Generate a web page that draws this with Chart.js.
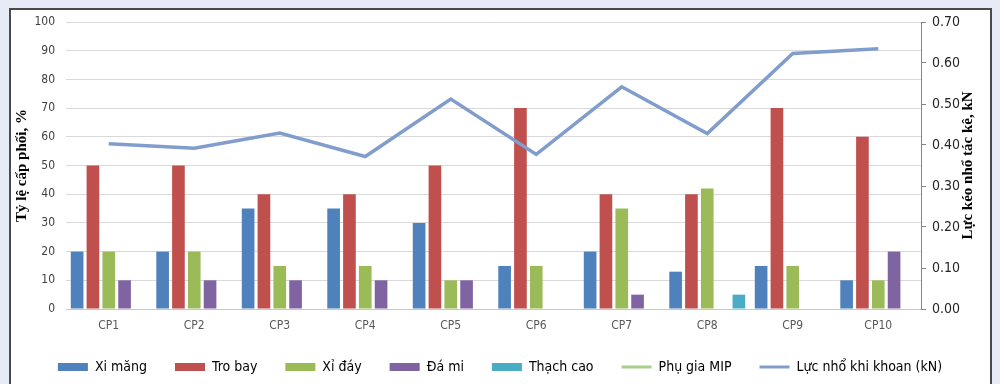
<!DOCTYPE html>
<html>
<head>
<meta charset="utf-8">
<script src="https://cdn.jsdelivr.net/npm/chart.js@4.4.1/dist/chart.umd.min.js"></script>
<style>
    html, body { margin: 0; padding: 0; background: #e7ebf5; }
    #wrap { position: relative; width: 1000px; height: 384px; overflow: hidden; }
    #box { position: absolute; left: 9px; top: 8px; width: 979px; height: 400px; background: #fff; border: 2px solid #4a4a4a; }
    #chart { position: absolute; left: 0; top: 0; }
</style>
</head>
<body>
<div id="wrap">
    <div id="box"></div>
    <canvas id="chart" width="1000" height="384"></canvas>
</div>
<script>
// Categories (mix designs)
var labels = ["CP1", "CP2", "CP3", "CP4", "CP5", "CP6", "CP7", "CP8", "CP9", "CP10"];

// Mix proportions, %
var xiMang   = [20, 20, 35, 35, 30, 15, 20, 13, 15, 10];
var troBay   = [50, 50, 40, 40, 50, 70, 40, 40, 70, 60];
var xiDay    = [20, 20, 15, 15, 10, 15, 35, 42, 15, 10];
var daMi     = [10, 10, 10, 10, 10, 0, 5, 0, 0, 20];
var thachCao = [0, 0, 0, 0, 0, 0, 0, 5, 0, 0];
var phuGia   = [null, null, null, null, null, null, null, null, null, null];

// Pull-out force, kN
var lucNho = [0.403, 0.392, 0.429, 0.372, 0.512, 0.377, 0.542, 0.428, 0.623, 0.635];

var leftTicks = [0, 10, 20, 30, 40, 50, 60, 70, 80, 90, 100];
var rightTicks = [0, 0.1, 0.2, 0.3, 0.4, 0.5, 0.6, 0.7];

var narrow = "'Liberation Sans Narrow', 'DejaVu Sans Condensed', sans-serif";
var serif = "'Liberation Serif', 'DejaVu Serif', serif";
var leftTitle = "Tỷ lệ cấp phối, %";
var rightTitle = "Lực kéo nhổ tác kê, kN";

function bar(label, data, color) {
    return {
        type: "bar",
        label: label,
        data: data,
        backgroundColor: color,
        borderWidth: 0,
        barPercentage: 0.8,
        categoryPercentage: 0.925,
        yAxisID: "y",
        order: 2
    };
}

// both axis titles read bottom-to-top like the original
var axisTitles = {
    id: "axisTitles",
    afterDraw: function (chart) {
        var a = chart.chartArea;
        var ctx = chart.ctx;
        var mid = (a.top + a.bottom) / 2;
        ctx.save();
        ctx.font = "bold 15px " + serif;
        ctx.fillStyle = "#000";
        ctx.textAlign = "center";
        ctx.textBaseline = "middle";
        [[22, leftTitle], [968, rightTitle]].forEach(function (t) {
            ctx.save();
            ctx.translate(t[0], mid);
            ctx.rotate(-Math.PI / 2);
            ctx.fillText(t[1], 0, 0);
            ctx.restore();
        });
        ctx.restore();
    }
};

new Chart(document.getElementById("chart"), {
    data: {
        labels: labels,
        datasets: [
            bar("Xi măng", xiMang, "#4f81bd"),
            bar("Tro bay", troBay, "#c0504d"),
            bar("Xỉ đáy", xiDay, "#9bbb59"),
            bar("Đá mi", daMi, "#8064a2"),
            bar("Thạch cao", thachCao, "#4bacc6"),
            {
                type: "line",
                label: "Phụ gia MIP",
                data: phuGia,
                borderColor: "#a9cf8a",
                borderWidth: 3,
                pointRadius: 0,
                yAxisID: "y",
                order: 1
            },
            {
                type: "line",
                label: "Lực nhổ khi khoan (kN)",
                data: lucNho,
                borderColor: "#819dcd",
                borderWidth: 3.5,
                pointRadius: 0,
                tension: 0,
                yAxisID: "y1",
                order: 0
            }
        ]
    },
    options: {
        responsive: false,
        animation: false,
        layout: { padding: { left: 0, right: 0, top: 22, bottom: 0 } },
        plugins: {
            tooltip: { enabled: false },
            legend: {
                position: "bottom",
                labels: {
                    usePointStyle: true,
                    pointStyleWidth: 30,
                    boxHeight: 8,
                    padding: 28,
                    color: "#000",
                    font: { family: narrow, size: 14, lineHeight: 1 },
                    generateLabels: function (chart) {
                        return chart.data.datasets.map(function (ds, i) {
                            var isLine = ds.type === "line";
                            return {
                                text: ds.label,
                                datasetIndex: i,
                                fillStyle: isLine ? ds.borderColor : ds.backgroundColor,
                                strokeStyle: isLine ? ds.borderColor : ds.backgroundColor,
                                lineWidth: isLine ? 3 : 0,
                                pointStyle: isLine ? "line" : "rect",
                                hidden: false
                            };
                        });
                    }
                }
            }
        },
        scales: {
            x: {
                afterFit: function (s) { s.height = 23; },
                grid: { display: false, drawTicks: false },
                border: { display: true, color: "#c8c8c8", width: 1 },
                ticks: { color: "#595959", font: { family: narrow, size: 12 }, padding: 10 }
            },
            y: {
                position: "left",
                min: 0,
                max: 100,
                afterFit: function (s) { s.width = 66; },
                afterBuildTicks: function (s) { s.ticks = leftTicks.map(function (v) { return { value: v }; }); },
                grid: { color: "#d9d9d9", drawTicks: false },
                border: { display: false },
                ticks: { color: "#404040", font: { family: narrow, size: 12 }, padding: 11 }
            },
            y1: {
                position: "right",
                min: 0,
                max: 0.7,
                afterFit: function (s) { s.width = 79; },
                afterBuildTicks: function (s) { s.ticks = rightTicks.map(function (v) { return { value: v }; }); },
                grid: { drawOnChartArea: false, drawTicks: true, tickLength: 5, color: "#868686" },
                border: { display: true, color: "#868686", width: 1 },
                ticks: {
                    color: "#262626",
                    font: { family: narrow, size: 14 },
                    padding: 6,
                    callback: function (v) { return v.toFixed(2); }
                }
            }
        }
    },
    plugins: [axisTitles]
});
</script>
</body>
</html>
